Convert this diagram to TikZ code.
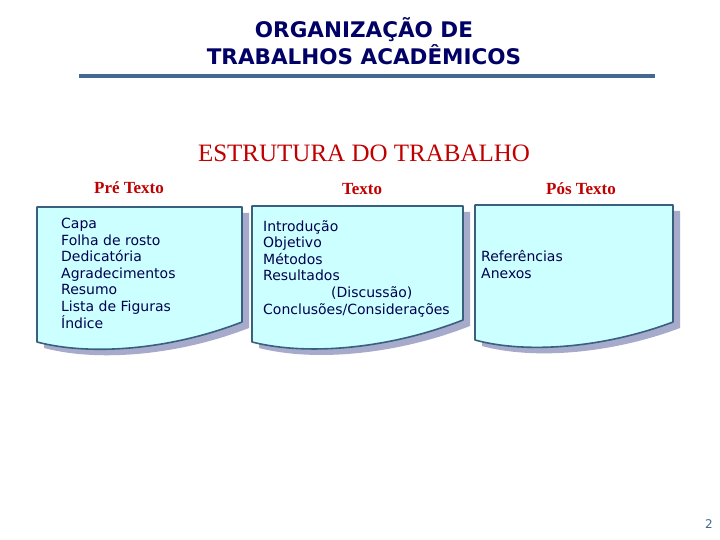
\documentclass[tikz,border=0pt]{standalone}
\usepackage{fontspec}
\setmainfont{Liberation Serif}
\setsansfont{DejaVu Sans}
\usepackage{tikz}
\usetikzlibrary{shadows}
\definecolor{titleblue}{HTML}{000066}
\definecolor{listblue}{HTML}{000050}
\definecolor{labelred}{HTML}{C00000}
\definecolor{rulesteel}{HTML}{44698F}
\definecolor{docfill}{HTML}{CCFFFF}
\definecolor{docedge}{HTML}{3A6080}
\definecolor{docshade}{HTML}{A6AACB}

\begin{document}
\begin{tikzpicture}[x=1pt, y=-1pt,
  doc/.style={fill=docfill, draw=docedge, line width=1.6pt, line join=round,
    drop shadow={shadow xshift=7pt, shadow yshift=-6pt, fill=docshade, opacity=1}},
  head/.style={inner sep=0pt, anchor=base, text=labelred, font=\bfseries\fontsize{17}{20}\selectfont},
  items/.style={inner sep=0pt, anchor=base west, align=left, text=listblue, font=\sffamily\fontsize{14}{16.6}\selectfont}]
\useasboundingbox (0,0) rectangle (720,540);
% title (anchored at the last line)
\node[inner sep=0pt, anchor=base, align=center, text=titleblue, font=\sffamily\bfseries\fontsize{21.5}{27}\selectfont] (title) at (364,65) {ORGANIZAÇÃO DE\\TRABALHOS ACADÊMICOS};
\coordinate (ruleL) at (79,76);
\coordinate (ruleR) at (655,76);
\draw[rulesteel, line width=4pt] (ruleL) -- (ruleR);
\node[inner sep=0pt, anchor=base, text=labelred, font=\fontsize{25}{29}\selectfont] (struct) at (364,162) {ESTRUTURA DO TRABALHO};
% column heads
\node[head] (pre) at (129,194) {Pré Texto};
\node[head] (txt) at (362,195) {Texto};
\node[head] (pos) at (581,195) {Pós Texto};
% documents
\draw[doc] (37,207) -- (242,207) -- (242,322) .. controls (170,350) and (90,356) .. (37,342) -- cycle;
\draw[doc] (252,206) -- (463,206) -- (463,320) .. controls (389,349) and (307,356) .. (252,342) -- cycle;
\draw[doc] (475,205) -- (673,205) -- (673,322) .. controls (604,348) and (526,354) .. (475,340) -- cycle;
% lists (anchored at the last line)
\node[items] (prelist) at (61,328) {Capa\\Folha de rosto\\Dedicatória\\Agradecimentos\\Resumo\\Lista de Figuras\\Índice};
\node[items] (txtlist) at (263,314) {Introdução\\Objetivo\\Métodos\\Resultados\\\hspace*{68pt}(Discussão)\\Conclusões/Considerações};
\node[items] (poslist) at (481,278) {Referências\\Anexos};
% page number
\node[inner sep=0pt, anchor=base, text=rulesteel, font=\sffamily\fontsize{12}{14}\selectfont] (page) at (709,528) {2};
\end{tikzpicture}
\end{document}
